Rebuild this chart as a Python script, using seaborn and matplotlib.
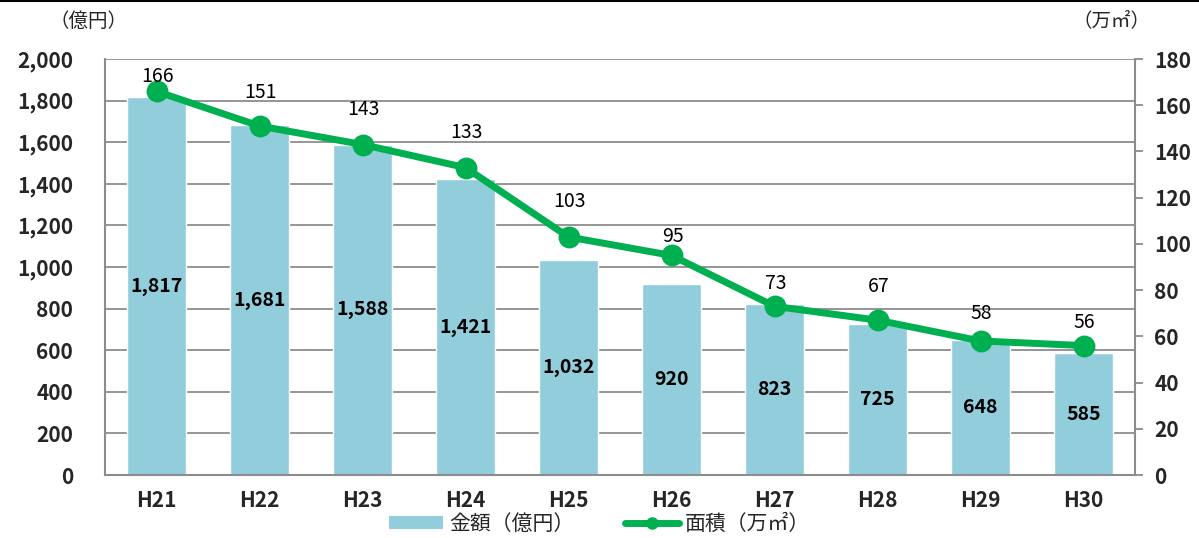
import matplotlib
matplotlib.use("Agg")
import matplotlib.pyplot as plt
from matplotlib.lines import Line2D
from matplotlib.patches import Patch
import seaborn as sns
import pandas as pd

years = ["H21", "H22", "H23", "H24", "H25", "H26", "H27", "H28", "H29", "H30"]
amount = [1817, 1681, 1588, 1421, 1032, 920, 823, 725, 648, 585]
area = [166, 151, 143, 133, 103, 95, 73, 67, 58, 56]
left_ticks = list(range(0, 2001, 200))
right_ticks = list(range(0, 181, 20))

# vertical distance (pixels) of each area label above its marker
label_lift_px = [15, 34, 35, 35, 35, 19, 23, 34, 27, 23]

sns.set_theme(style="white")
plt.rcParams["font.family"] = ["Noto Sans CJK JP", "DejaVu Sans"]

BAR = "#92CDDC"
GREEN = "#00B050"
GRID = "#8C8C8C"

df = pd.DataFrame({"year": years, "amount": amount, "area": area})

fig = plt.figure(figsize=(11.99, 5.38), dpi=100)
ax = fig.add_axes([105 / 1199, 1 - 475 / 538, (1135 - 105) / 1199, (475 - 59) / 538])

sns.barplot(data=df, x="year", y="amount", color=BAR, width=0.57, saturation=1, ax=ax, zorder=2)
ax.set_ylim(0, 2000)
ax.set_xlim(-0.5, 9.5)
ax.set_yticks(left_ticks)
ax.set_yticklabels([f"{v:,}" for v in left_ticks], fontsize=15, fontweight="bold")
ax.yaxis.grid(True, color=GRID, linewidth=1.3, zorder=0)
ax.set_axisbelow(True)
ax.tick_params(axis="y", length=0, pad=23)
ax.tick_params(axis="x", length=0, pad=11, labelsize=15)
for t in ax.get_xticklabels():
    t.set_fontweight("bold")
ax.set_xlabel("")
ax.set_ylabel("")
for s in ["top", "right"]:
    ax.spines[s].set_visible(False)
for s in ["left", "bottom"]:
    ax.spines[s].set_color(GRID)
    ax.spines[s].set_linewidth(1.5)

for i, v in enumerate(amount):
    ax.text(i, v / 2, f"{v:,}", ha="center", va="center", fontsize=14, fontweight="bold", color="black", zorder=5)

ax2 = ax.twinx()
sns.pointplot(data=df, x="year", y="area", color=GREEN, markers="o", linestyles="-",
              linewidth=5, markersize=12, ax=ax2, zorder=4)
ax2.set_xlim(-0.5, 9.5)
ax2.set_ylim(0, 180)
ax2.set_yticks(right_ticks)
ax2.set_yticklabels([str(v) for v in right_ticks], fontsize=15, fontweight="bold")
ax2.tick_params(axis="y", length=6, width=1.3, color=GRID, pad=8)
ax2.set_ylabel("")
ax2.set_xlabel("")
for s in ["top", "left", "bottom"]:
    ax2.spines[s].set_visible(False)
ax2.spines["right"].set_color(GRID)
ax2.spines["right"].set_linewidth(1.5)

for i, v in enumerate(area):
    ax2.annotate(str(v), (i, v), xytext=(1, label_lift_px[i]), textcoords="offset pixels",
                 ha="center", va="center", fontsize=14, color="black", zorder=6)

fig.text(50 / 1199, 1 - 21 / 538, "（億円）", ha="left", va="center", fontsize=14)
fig.text(1150 / 1199, 1 - 21 / 538, "（万㎡）", ha="right", va="center", fontsize=14)

handles = [Patch(facecolor=BAR, edgecolor="none", label="金額（億円）"),
           Line2D([0], [0], color=GREEN, linewidth=5, marker="o", markersize=8, label="面積（万㎡）")]
fig.legend(handles=handles, loc="center", bbox_to_anchor=(0.5, 1 - 524 / 538), ncol=2,
           frameon=False, fontsize=15, handlelength=2.6, handleheight=0.55, columnspacing=2.4,
           handletextpad=0.3)

fig.add_artist(Line2D([0, 1], [1 - 0.5 / 538, 1 - 0.5 / 538], color="black", linewidth=1.5))

fig.savefig("out.png", dpi=100)
